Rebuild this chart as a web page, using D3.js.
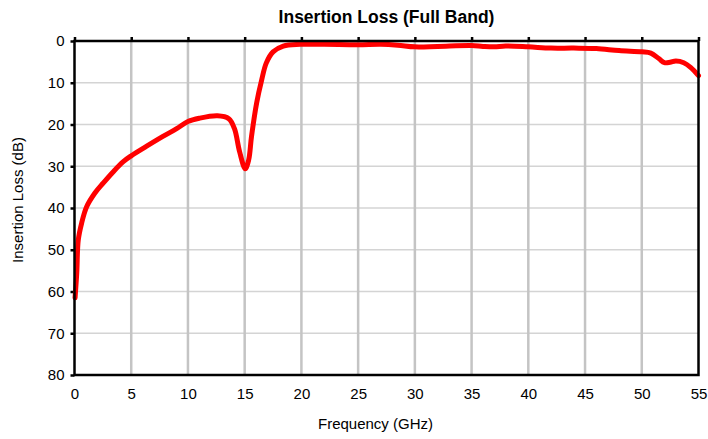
<!DOCTYPE html>
<html>
<head>
<meta charset="utf-8">
<script src="https://cdn.jsdelivr.net/npm/d3@7"></script>
<style>
  body { margin: 0; background: #fff; }
  text { font-family: "Liberation Sans", Arial, sans-serif; fill: #000; }
  #title { font-size: 17.5px; font-weight: bold; }
  .axis_label { font-size: 15px; }
  .tick text { font-size: 15px; }
</style>
</head>
<body>
<script>
var margin = {top: 41, bottom: 64, left: 74.5, right: 9.5};
var width = 708 - margin.left - margin.right;
var height = 439 - margin.top - margin.bottom;

// Data
var freq = [0.05, 0.2, 0.33, 0.63, 1.07, 1.8, 2.54, 3.42, 4.3, 5, 6.36, 7.83, 9, 10, 11, 12.6,
            13.6, 14.1, 14.55, 15.05, 15.35, 15.6, 16.05, 16.5, 16.9, 17.5, 18.4, 19.9,
            22, 25, 27, 28.5, 30, 32, 35, 36, 37, 38, 40, 42, 44, 46, 48, 50, 50.8,
            51.5, 52, 52.5, 53, 53.7, 54.3, 55];
var loss = [61.5, 55.5, 47.7, 43.6, 39.7, 36.4, 34, 31.3, 28.9, 27.5, 25.2, 22.8, 21, 19.3, 18.5, 17.9,
            18.6, 21, 26.5, 30.6, 28.5, 22.9, 14.9, 9.3, 5.3, 2.6, 1.2, 0.8,
            0.8, 0.9, 0.8, 1.0, 1.4, 1.3, 1.1, 1.3, 1.4, 1.2, 1.4, 1.7, 1.7, 1.8, 2.3, 2.6, 2.9,
            4.2, 5.2, 5.1, 4.8, 5.2, 6.3, 8.3];
var xTicks = [0, 5, 10, 15, 20, 25, 30, 35, 40, 45, 50, 55];
var yTicks = [0, 10, 20, 30, 40, 50, 60, 70, 80];

var dataset = freq.map(function(f, i) { return {f: f, l: loss[i]}; });

var svg = d3.select("body")
  .append("svg")
  .attr("width", 708)
  .attr("height", 439);

var g = svg.append("g")
  .attr("transform", "translate(" + margin.left + "," + margin.top + ")");

var xScale = d3.scaleLinear().domain([0, 55]).range([0, width]);
var yScale = d3.scaleLinear().domain([0, 80]).range([0, height]);

// Horizontal grid
g.selectAll("line.hgrid")
  .data(yTicks.slice(1, -1))
  .enter()
  .append("line")
  .attr("class", "hgrid")
  .attr("x1", 0).attr("x2", width)
  .attr("y1", function(d) { return yScale(d); })
  .attr("y2", function(d) { return yScale(d); })
  .style("stroke", "#d4d4d4")
  .style("stroke-width", 1.5);

// Vertical grid
g.selectAll("line.vgrid")
  .data(xTicks.slice(1, -1))
  .enter()
  .append("line")
  .attr("class", "vgrid")
  .attr("y1", 0).attr("y2", height)
  .attr("x1", function(d) { return xScale(d); })
  .attr("x2", function(d) { return xScale(d); })
  .style("stroke", "#c4c4c4")
  .style("stroke-width", 2.5);

// Y axis (left)
var yAxis = d3.axisLeft(yScale).tickValues(yTicks).tickSize(4).tickPadding(6);
g.append("g").attr("class", "axis").call(yAxis)
  .call(function(a) { a.select(".domain").remove(); })
  .selectAll(".tick line").style("stroke", "#000").style("stroke-width", 2.5);

// X axis labels (bottom, no ticks)
var xAxis = d3.axisBottom(xScale).tickValues(xTicks).tickSize(0).tickPadding(13);
g.append("g").attr("class", "axis")
  .attr("transform", "translate(0," + height + ")")
  .call(xAxis)
  .call(function(a) { a.select(".domain").remove(); });

// Top ticks
var topAxis = d3.axisTop(xScale).tickValues(xTicks).tickSize(4).tickFormat("");
g.append("g").attr("class", "axis").call(topAxis)
  .call(function(a) { a.select(".domain").remove(); })
  .selectAll(".tick line").style("stroke", "#000").style("stroke-width", 2.5);

// Curve
var line = d3.line()
  .x(function(d) { return xScale(d.f); })
  .y(function(d) { return yScale(d.l); })
  .curve(d3.curveCatmullRom.alpha(0.5));

g.append("path")
  .datum(dataset)
  .attr("d", line)
  .style("fill", "none")
  .style("stroke", "#ff0000")
  .style("stroke-width", 5)
  .style("stroke-linecap", "round")
  .style("stroke-linejoin", "round");

// Frame
g.append("rect")
  .attr("x", 0).attr("y", 0)
  .attr("width", width).attr("height", height)
  .style("fill", "none")
  .style("stroke", "#000")
  .style("stroke-width", 2.5);

// Title
svg.append("text")
  .attr("id", "title")
  .attr("x", margin.left + width / 2)
  .attr("y", 23)
  .attr("text-anchor", "middle")
  .text("Insertion Loss (Full Band)");

// Axis labels
svg.append("text")
  .attr("class", "axis_label")
  .attr("transform", "translate(23," + (margin.top + height / 2 - 8) + ") rotate(270)")
  .attr("text-anchor", "middle")
  .text("Insertion Loss (dB)");

svg.append("text")
  .attr("class", "axis_label")
  .attr("x", margin.left + width / 2 - 11)
  .attr("y", 429)
  .attr("text-anchor", "middle")
  .text("Frequency (GHz)");
</script>
</body>
</html>
